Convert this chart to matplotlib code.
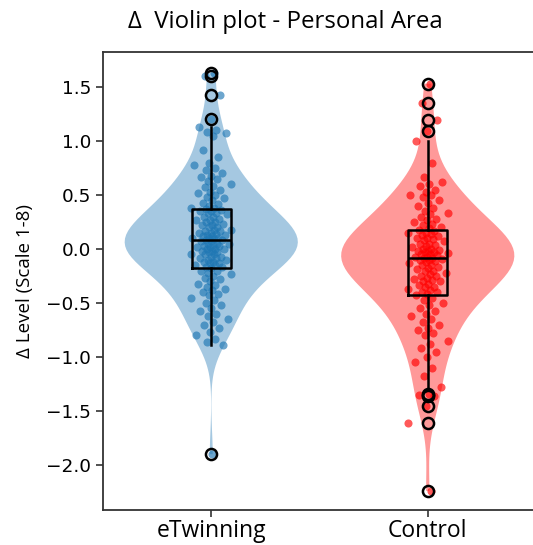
import numpy as np
import matplotlib.pyplot as plt

groups = ['eTwinning', 'Control']
colors = ['#1f77b4', 'red']

etwinning = [
    1.63, 1.60, 1.43, 1.20,
    1.13, 1.10, 1.08, 1.07, 1.05, 0.92, 0.85, 0.80, 0.78, 0.75, 0.73, 0.70,
    0.68, 0.67, 0.65, 0.63, 0.60, 0.58, 0.57, 0.55, 0.53, 0.52, 0.50, 0.48,
    0.47, 0.45, 0.43, 0.42, 0.40, 0.38, 0.38,
    0.37, 0.36, 0.35, 0.35, 0.33, 0.33, 0.32, 0.30, 0.30, 0.28, 0.27, 0.27,
    0.25, 0.25, 0.23, 0.22, 0.22, 0.20, 0.20, 0.18, 0.18, 0.17, 0.17, 0.15,
    0.15, 0.14, 0.13, 0.13, 0.12, 0.12, 0.10, 0.10, 0.10, 0.09, 0.08,
    0.08, 0.07, 0.07, 0.05, 0.05, 0.05, 0.04, 0.03, 0.03, 0.02, 0.02, 0.00,
    0.00, 0.00, -0.02, -0.02, -0.03, -0.03, -0.05, -0.05, -0.05, -0.07, -0.07,
    -0.08, -0.08, -0.10, -0.10, -0.12, -0.12, -0.13, -0.13, -0.15, -0.15,
    -0.17, -0.17,
    -0.18, -0.20, -0.20, -0.22, -0.23, -0.25, -0.27, -0.28, -0.30, -0.32,
    -0.33, -0.35, -0.37, -0.38, -0.40, -0.42, -0.43, -0.45, -0.47, -0.50,
    -0.52, -0.55, -0.57, -0.60, -0.62, -0.65, -0.68, -0.70, -0.73, -0.77,
    -0.80, -0.83, -0.86, -0.89, -1.90,
]

control = [
    1.53, 1.35, 1.19, 1.09, 1.00, 0.80, 0.67, 0.62, 0.60, 0.58, 0.55, 0.53,
    0.50, 0.50, 0.48, 0.45, 0.43, 0.40, 0.38, 0.35, 0.33, 0.32, 0.30, 0.28,
    0.27, 0.25, 0.23, 0.22, 0.20, 0.19, 0.18,
    0.17, 0.15, 0.15, 0.14, 0.13, 0.12, 0.10, 0.10, 0.09, 0.08, 0.07,
    0.05, 0.05, 0.04, 0.03, 0.02, 0.00, 0.00, -0.01, -0.02,
    -0.02, -0.03, -0.03, -0.04, -0.05, -0.05, -0.06, -0.07, -0.07,
    -0.08, -0.08,
    -0.09, -0.10, -0.10, -0.11, -0.12, -0.13, -0.15, -0.15, -0.17, -0.18,
    -0.19, -0.20, -0.20, -0.22, -0.23, -0.25, -0.25, -0.27, -0.28, -0.29,
    -0.30, -0.30, -0.32, -0.33, -0.35, -0.35, -0.37, -0.38, -0.40, -0.40,
    -0.42,
    -0.43, -0.45, -0.47, -0.50, -0.52, -0.55, -0.57, -0.60, -0.62, -0.65,
    -0.68, -0.70, -0.73, -0.75, -0.78, -0.80, -0.85, -0.88, -0.92, -0.95,
    -1.00, -1.05, -1.10, -1.18, -1.28, -1.34, -1.35, -1.36, -1.45, -1.61,
    -2.24,
]

data = [np.array(etwinning), np.array(control)]
positions = [0, 1]

fig = plt.figure(figsize=(5.33, 5.45), dpi=100)
ax = fig.add_axes([103 / 533, 35 / 545, 433 / 533, 458 / 545])

parts = ax.violinplot(data, positions=positions, widths=0.8,
                      showextrema=False)
for body, c in zip(parts['bodies'], colors):
    body.set_facecolor(c)
    body.set_edgecolor('none')
    body.set_alpha(0.4)

# deterministic jitter: golden ratio sequence pushed through a logistic shape
for pos, vals, c in zip(positions, data, colors):
    u = ((np.arange(len(vals)) + 1) * 0.618034) % 1.0
    u = np.clip(u, 0.02, 0.98)
    jit = np.clip(0.024 * np.log(u / (1 - u)), -0.12, 0.12)
    ax.scatter(pos + jit, vals, s=34, color=c, alpha=0.65, linewidths=0,
               zorder=2)

ax.boxplot(data, positions=positions, widths=0.18, showcaps=False,
           patch_artist=False, zorder=3,
           boxprops=dict(color='black', linewidth=1.8),
           whiskerprops=dict(color='black', linewidth=1.8),
           medianprops=dict(color='black', linewidth=1.8),
           flierprops=dict(marker='o', markerfacecolor='none',
                           markeredgecolor='black', markersize=8,
                           markeredgewidth=1.8))

ax.set_xlim(-0.5, 1.5)
ax.set_ylim(-2.417, 1.824)
ax.set_yticks([-2.0, -1.5, -1.0, -0.5, 0.0, 0.5, 1.0, 1.5])
ax.set_xticks(positions)
ax.set_xticklabels(groups, fontfamily='Open Sans', fontsize=16.5)
ax.tick_params(axis='y', labelsize=13.3, length=5, width=1.2, color='#333333')
ax.tick_params(axis='x', length=5, width=1.2, color='#333333', pad=1.5)
for sp in ax.spines.values():
    sp.set_linewidth(1.3)
    sp.set_color('#333333')

ax.set_ylabel('Δ Level (Scale 1-8)', fontfamily='Open Sans', fontsize=13.5,
              labelpad=9)
fig.text(285 / 533, 1 - 22 / 545, 'Δ  Violin plot - Personal Area',
         fontfamily='Open Sans', fontsize=17.3, ha='center', va='center')

fig.savefig('out.png', dpi=100)
